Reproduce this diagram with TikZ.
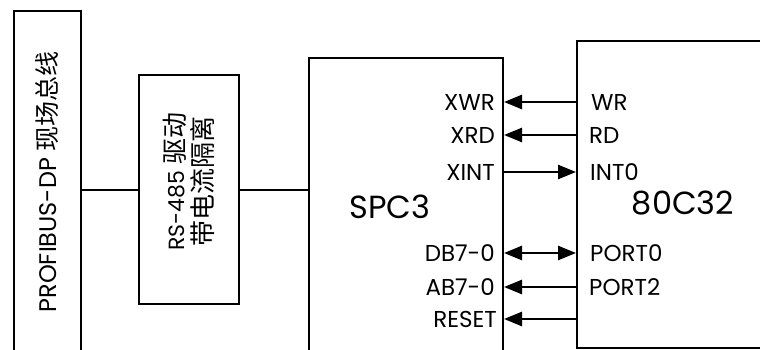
\documentclass[tikz,border=0pt]{standalone}
\usepackage{fontspec}
\setmainfont{Poppins}
\newfontfamily\cjk{Noto Sans CJK SC}
\usetikzlibrary{arrows.meta}
\begin{document}
\begin{tikzpicture}[x=1pt,y=-1pt,
  box/.style={draw,line width=2pt,inner sep=0,anchor=north west},
  sig/.style={line width=2.6pt,-{Triangle[length=18pt,width=14pt]}},
  bsig/.style={line width=2.6pt,{Triangle[length=18pt,width=14pt]}-{Triangle[length=18pt,width=14pt]}},
  lbl/.style={inner sep=0,font=\fontsize{23}{26}\selectfont},
  big/.style={inner sep=0,font=\fontsize{32}{36}\selectfont}]
\useasboundingbox (0,0) rectangle (760,350);
\clip (0,0) rectangle (760,350);
\fill[white] (0,0) rectangle (760,350);
% boxes
\node[box,minimum width=67,minimum height=342] (pb) at (13,10) {};
\node[box,minimum width=100,minimum height=229] (rs) at (138,74) {};
\node[box,minimum width=194,minimum height=310] (spc) at (308,57) {};
\node[box,minimum width=210,minimum height=307] (mcu) at (576,40) {};
% box texts
\node[rotate=90,inner sep=0,font=\fontsize{24}{28}\selectfont] (pbt) at (pb.center) {PROFIBUS-DP {\cjk\fontsize{25}{28}\selectfont 现场总线}};
\node[rotate=90,inner sep=0,align=center,font=\fontsize{22}{28}\selectfont] (rst) at ([yshift=8]rs.center) {RS-485 {\cjk\fontsize{26}{28}\selectfont 驱动}\\{\cjk\fontsize{26}{28}\selectfont 带电流隔离}};
\node[big] (spct) at (390,207) {SPC3};
\node[big] (mcut) at (683,203) {80C32};
% bus connections
\draw[line width=2pt] (pb.east |- rs.west) -- (rs.west);
\draw[line width=2pt] (rs.east) -- (rs.east -| spc.west);
% pin labels
\node[lbl,anchor=east] (xwr) at (495,102) {XWR};
\node[lbl,anchor=east] (xrd) at (495,135) {XRD};
\node[lbl,anchor=east] (xint) at (495,172) {XINT};
\node[lbl,anchor=east] (db) at (495,253) {DB7-0};
\node[lbl,anchor=east] (ab) at (495,287) {AB7-0};
\node[lbl,anchor=east] (rst2) at (497,319) {RESET};
\node[lbl,anchor=west] (wr) at (591,102) {WR};
\node[lbl,anchor=west] (rd) at (589,135) {RD};
\node[lbl,anchor=west] (int) at (590,172) {INT0};
\node[lbl,anchor=west] (p0) at (590,253) {PORT0};
\node[lbl,anchor=west] (p2) at (589,287) {PORT2};
\coordinate (rsin) at (590,319);
% signals
\draw[sig] (wr.west -| mcu.west) -- (xwr.east -| spc.east);
\draw[sig] (rd.west -| mcu.west) -- (xrd.east -| spc.east);
\draw[sig] (xint.east -| spc.east) -- (int.west -| mcu.west);
\draw[bsig] (db.east -| spc.east) -- (p0.west -| mcu.west);
\draw[sig] (p2.west -| mcu.west) -- (ab.east -| spc.east);
\draw[sig] (rsin -| mcu.west) -- (rst2.east -| spc.east);
\end{tikzpicture}
\end{document}
